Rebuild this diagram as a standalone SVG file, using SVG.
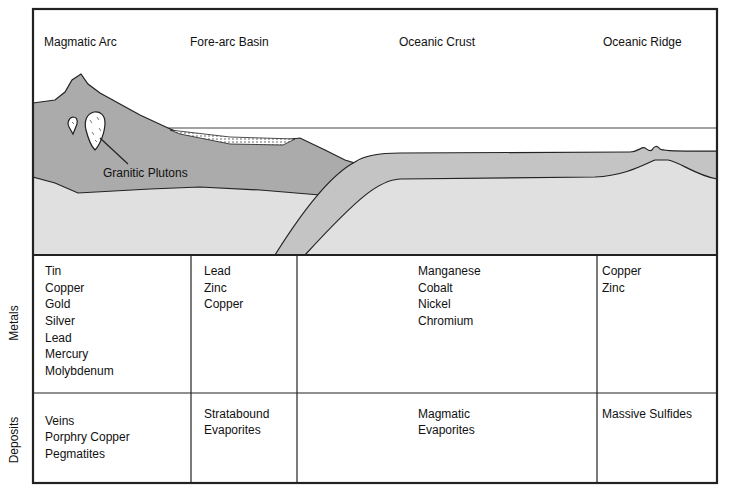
<svg xmlns="http://www.w3.org/2000/svg" width="732" height="499" viewBox="0 0 732 499">
<style>
text{font-family:"Liberation Sans",Arial,sans-serif;font-size:12px;fill:#111}
.ln{stroke:#222;stroke-width:1.2;fill:none}
.g{stroke:#222;stroke-width:1.2}
</style>
<defs>
<pattern id="dots" width="4" height="3" patternUnits="userSpaceOnUse"><rect width="4" height="3" fill="#fff"/><circle cx="1" cy="1" r="0.7" fill="#333"/></pattern>
</defs>
<rect width="732" height="499" fill="#fff"/>
<g id="section">
<path fill="#e0e0e0" d="M33,172 L600,172 L655,158 L668,158 L717,172 L717,255 L33,255 Z"/>
<line x1="168" y1="128" x2="717" y2="128" stroke="#444" stroke-width="1"/>
<path class="g" fill="#ababab" d="M33,103 L55,100 L65,92 L72,80 L81,74 L88,84 L100,93 L140,115 L168,128 L180,133 L230,142 L275,141 L300,138 L325,150 L345,160 L358,164 L340,180 L345,197 L320,195 L260,190 L200,187 L150,189 L78,193 L55,183 L33,177 Z"/>
<path fill="url(#dots)" stroke="#222" stroke-width="0.8" d="M170,130 L230,137 L295,139 L283,145 L230,144 L180,134 Z"/>
<path class="g" fill="#c4c4c4" d="M275,255 C300,215 330,175 355,162 C365,155 380,153 400,153 L630,152 C638,152 642,146 645,148 C648,150 650,152 652,150 C654,146 657,145 660,149 C664,152 690,151 717,151 L717,179 C695,175 680,162 668,160 L655,160 C645,164 625,176 595,177 L400,179 C380,180 360,195 305,255 Z"/>
<path class="g" fill="#fff" d="M73,117 C68,118 67,124 69,127 L73,134 L77,124 C78,119 76,117 73,117 Z"/>
<path class="g" fill="#fff" d="M94,112 C86,114 84,122 86,130 C88,138 92,147 95,150 C100,145 105,132 105,123 C105,115 100,111 94,112 Z"/>
<g stroke="#444" stroke-width="0.7"><line x1="90" y1="120" x2="92" y2="123"/><line x1="97" y1="117" x2="99" y2="120"/><line x1="92" y1="132" x2="94" y2="135"/><line x1="99" y1="128" x2="101" y2="131"/><line x1="95" y1="140" x2="97" y2="142"/><line x1="72" y1="122" x2="74" y2="124"/></g>
<line x1="100" y1="138" x2="128" y2="164" stroke="#222" stroke-width="1.2"/>
<text x="103" y="177">Granitic Plutons</text>
</g>
<g id="headers">
<text x="44" y="46">Magmatic Arc</text>
<text x="190" y="46">Fore-arc Basin</text>
<text x="399" y="46">Oceanic Crust</text>
<text x="603" y="46">Oceanic Ridge</text>
</g>
<g id="table" class="ln">
<rect x="33" y="9" width="684" height="474" stroke-width="2.2" fill="none" stroke="#222"/>
<line x1="33" y1="255" x2="717" y2="255" stroke="#222" stroke-width="2"/>
<line x1="33" y1="393" x2="717" y2="393" stroke="#222" stroke-width="1.2"/>
<line x1="191" y1="255" x2="191" y2="483" stroke="#222" stroke-width="1.2"/>
<line x1="297" y1="255" x2="297" y2="483" stroke="#222" stroke-width="1.2"/>
<line x1="597" y1="255" x2="597" y2="483" stroke="#222" stroke-width="1.2"/>
</g>
<g id="metals">
<text transform="translate(18,323) rotate(-90)" text-anchor="middle" font-size="11">Metals</text>
<text x="45" y="275">Tin</text><text x="45" y="292">Copper</text><text x="45" y="308">Gold</text><text x="45" y="325">Silver</text><text x="45" y="342">Lead</text><text x="45" y="358">Mercury</text><text x="45" y="375">Molybdenum</text>
<text x="204" y="275">Lead</text><text x="204" y="292">Zinc</text><text x="204" y="308">Copper</text>
<text x="418" y="275">Manganese</text><text x="418" y="292">Cobalt</text><text x="418" y="308">Nickel</text><text x="418" y="325">Chromium</text>
<text x="602" y="275">Copper</text><text x="602" y="292">Zinc</text>
</g>
<g id="deposits">
<text transform="translate(18,440) rotate(-90)" text-anchor="middle" font-size="11">Deposits</text>
<text x="45" y="425">Veins</text><text x="45" y="441">Porphry Copper</text><text x="45" y="458">Pegmatites</text>
<text x="204" y="418">Stratabound</text><text x="204" y="434">Evaporites</text>
<text x="418" y="418">Magmatic</text><text x="418" y="434">Evaporites</text>
<text x="602" y="418">Massive Sulfides</text>
</g>
</svg>
